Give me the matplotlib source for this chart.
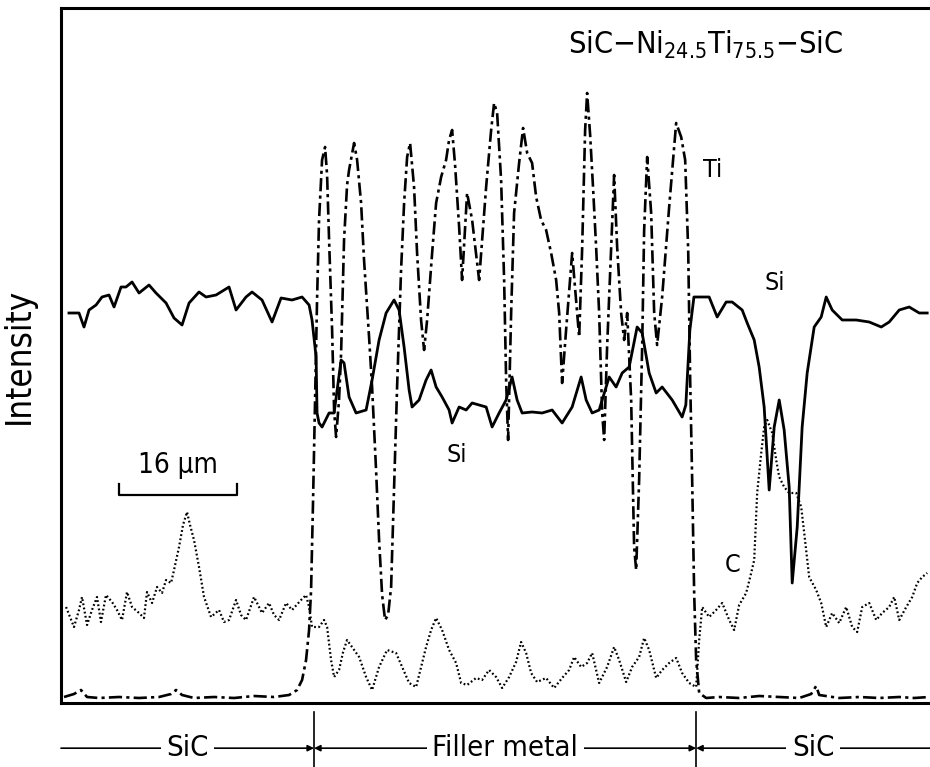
import matplotlib
matplotlib.use("Agg")
import matplotlib.pyplot as plt
from matplotlib import font_manager

# ── Line-scan data: position (um) / intensity (arb. counts) ──────────────
si_x = [1.08, 2.44, 3.12, 3.80, 4.75, 5.56, 6.51, 7.19, 8.14, 8.81, 9.63, 10.58,
        11.93, 12.88, 14.24, 15.32, 16.41, 17.36, 18.71, 19.66, 21.02, 22.78, 23.73,
        25.08, 25.90, 27.25, 28.61, 29.83, 31.32, 32.68, 33.63, 34.03, 34.58, 34.71,
        34.98, 35.39, 36.34, 37.02, 37.97, 38.37, 39.05, 40.00, 41.36, 42.17, 43.12,
        44.07, 45.15, 45.83, 46.51, 47.19, 47.59, 48.54, 49.49, 50.17, 50.85, 51.66,
        52.61, 53.02, 53.97, 54.92, 55.73, 56.68, 57.63, 58.44, 59.39, 60.34, 61.15,
        61.83, 62.51, 63.86, 65.22, 66.58, 67.93, 69.29, 70.51, 71.19, 72.00, 72.95,
        74.31, 75.25, 76.07, 77.02, 78.10, 78.78, 79.73, 80.68, 81.49, 82.85, 84.20,
        84.70, 85.25, 85.80, 87.86, 88.95, 90.17, 90.98, 92.34, 93.02, 93.97, 94.64,
        95.32, 96.00, 96.68, 97.36, 98.03, 98.71, 99.12, 99.80, 100.47, 101.15,
        102.10, 103.05, 103.73, 104.54, 105.90, 107.80, 109.56, 111.19, 112.27,
        113.63, 114.98, 116.34, 117.42]
si_y = [390, 390, 376, 393, 398, 406, 408, 396, 416, 416, 421, 410,
        418, 410, 400, 385, 378, 400, 411, 406, 408, 416, 393,
        406, 411, 403, 381, 405, 403, 406, 398, 383, 346, 290,
        280, 276, 290, 290, 343, 340, 306, 290, 293, 323, 363,
        390, 403, 393, 356, 313, 296, 303, 323, 333, 316, 306,
        293, 280, 296, 293, 300, 298, 296, 276, 290, 303, 326,
        303, 290, 291, 290, 293, 280, 296, 326, 303, 290, 293,
        326, 316, 330, 336, 376, 370, 330, 310, 316, 303, 286,
        298, 373, 406, 406, 386, 401, 401, 393, 380, 363, 336,
        296, 213, 276, 303, 273, 216, 120, 176, 276, 330,
        376, 386, 406, 393, 383, 383, 381, 376, 381,
        393, 396, 390, 390]

ti_x = [0.41, 1.76, 2.71, 3.53, 5.15, 7.86, 10.58, 13.29, 14.92, 15.59, 16.41,
        18.03, 20.75, 23.46, 26.17, 28.88, 30.92, 32.00, 32.68, 33.22, 33.63, 33.90,
        34.17, 34.44, 34.71, 34.98, 35.39, 35.80, 36.07, 36.34, 36.75, 37.02, 37.29,
        37.69, 37.97, 38.37, 38.78, 39.05, 39.73, 40.14, 40.68, 41.08, 41.76, 42.17,
        42.71, 43.12, 43.53, 43.93, 44.34, 44.75, 45.15, 45.56, 46.10, 46.51, 46.92,
        47.32, 47.86, 48.27, 48.81, 49.22, 49.63, 50.31, 50.85, 51.53, 52.20, 52.61,
        53.02, 53.42, 53.97, 54.37, 55.05, 55.73, 56.68, 57.63, 58.31, 58.71, 59.12,
        59.66, 60.07, 60.34, 60.61, 61.02, 61.42, 62.10, 62.64, 63.19, 63.86, 64.41,
        65.08, 65.76, 66.44, 67.12, 67.53, 67.93, 68.47, 69.29, 69.83, 70.24, 70.64,
        71.05, 71.32, 71.73, 72.14, 72.54, 72.95, 73.36, 73.63, 74.03, 74.58, 74.98,
        75.39, 75.93, 76.34, 76.75, 77.29, 77.69, 77.97, 78.37, 78.78, 79.05, 79.46,
        80.00, 80.41, 80.81, 81.49, 82.44, 83.39, 84.07, 84.61, 85.02, 85.29, 85.56,
        85.83, 86.10, 86.51, 87.46, 89.22, 91.93, 94.64, 97.36, 100.07, 101.69,
        102.37, 102.78, 105.49, 108.20, 110.92, 113.63, 115.66, 117.69]
ti_y = [6, 9, 13, 6, 5, 6, 5, 6, 9, 13, 8,
        5, 6, 5, 7, 6, 8, 13, 23, 43, 73, 113,
        203, 303, 403, 483, 543, 556, 528, 463, 373, 293, 266,
        303, 350, 463, 518, 533, 560, 543, 500, 443, 366, 316,
        233, 163, 108, 83, 88, 116, 216, 316, 433, 500, 546,
        560, 516, 450, 383, 353, 383, 450, 500, 526, 543, 563,
        573, 538, 476, 423, 510, 483, 423, 516, 573, 600, 590,
        523, 423, 323, 263, 390, 490, 540, 575, 550, 540, 506,
        483, 473, 450, 423, 390, 320, 373, 450, 403, 366, 453,
        573, 610, 568, 513, 456, 390, 290, 263, 356, 456, 528,
        456, 390, 363, 390, 303, 156, 133, 223, 356, 473, 546,
        490, 390, 358, 406, 496, 580, 566, 543, 453, 323, 223,
        110, 43, 10, 5, 6, 5, 7, 6, 5, 9,
        17, 8, 5, 6, 5, 6, 5, 6]

c_x = [0.68, 1.76, 2.44, 2.85, 3.53, 4.20, 4.88, 5.42, 6.10, 6.92, 7.59, 8.27,
       8.95, 9.63, 10.58, 11.25, 11.66, 12.34, 13.02, 13.69, 14.24, 14.92, 15.32,
       16.00, 16.54, 17.08, 17.49, 18.03, 18.71, 19.39, 20.34, 21.42, 22.10, 22.78,
       23.73, 24.41, 25.08, 26.17, 27.25, 28.20, 28.88, 29.56, 30.51, 31.32, 32.54,
       33.22, 33.63, 34.03, 34.98, 35.66, 36.07, 36.61, 37.02, 37.69, 38.24, 38.78,
       39.73, 40.41, 41.36, 42.17, 43.12, 44.20, 45.42, 46.24, 47.19, 48.14, 49.49,
       50.17, 50.85, 51.66, 52.61, 53.56, 54.24, 55.05, 56.27, 57.08, 58.03, 58.98,
       59.80, 60.75, 61.69, 62.37, 63.05, 63.73, 64.54, 65.76, 66.85, 67.93, 68.88,
       69.56, 70.51, 71.32, 72.00, 72.95, 74.03, 74.98, 75.66, 76.61, 77.42, 78.37,
       79.05, 79.73, 80.68, 81.49, 82.44, 83.39, 84.20, 85.15, 86.10, 86.51, 86.92,
       87.86, 88.81, 89.63, 90.58, 91.25, 91.93, 92.88, 93.56, 93.97, 94.37, 94.92,
       95.32, 95.73, 96.41, 96.95, 97.36, 98.03, 98.71, 99.66, 100.34, 100.75,
       101.42, 102.37, 103.05, 103.73, 104.54, 105.49, 106.44, 107.25, 107.93,
       108.61, 109.56, 110.51, 111.32, 112.27, 112.95, 113.63, 114.58, 115.39,
       116.07, 116.75, 117.42]
c_y = [96, 76, 93, 106, 78, 93, 106, 81, 108, 101, 93, 83,
       111, 96, 90, 85, 111, 100, 116, 110, 123, 120, 133,
       156, 178, 191, 178, 163, 136, 106, 86, 93, 81, 83,
       103, 88, 83, 106, 90, 100, 88, 83, 100, 93, 103,
       108, 96, 76, 76, 83, 76, 43, 26, 33, 51, 63,
       53, 46, 26, 13, 36, 53, 50, 36, 20, 16, 56,
       73, 85, 73, 53, 40, 20, 18, 25, 23, 33, 26,
       15, 26, 41, 61, 50, 30, 21, 25, 15, 25, 33,
       46, 36, 40, 50, 20, 36, 56, 43, 21, 36, 46,
       65, 53, 25, 33, 40, 45, 30, 20, 16, 63, 96,
       86, 93, 100, 83, 73, 98, 110, 130, 143, 210, 250,
       276, 283, 270, 243, 226, 216, 210, 210, 196, 170,
       126, 113, 100, 76, 90, 80, 96, 76, 71,
       96, 100, 83, 90, 96, 106, 83, 96, 106,
       120, 126, 130]

# interface positions and phase labels along the scan
interfaces = [34.3, 86.1]
phase_labels = ["SiC", "Filler metal", "SiC"]
scale_bar_um = 16

# ── Styling ──────────────────────────────────────────────────────────────
names = {f.name for f in font_manager.fontManager.ttflist}
narrow = [n for n in ("Liberation Sans Narrow", "DejaVu Sans") if n in names]
plt.rcParams["font.family"] = narrow + ["DejaVu Sans"]
plt.rcParams["font.stretch"] = "condensed"
plt.rcParams["mathtext.fontset"] = "custom"
plt.rcParams["mathtext.rm"] = narrow[0]

fig = plt.figure(figsize=(9.3, 7.67), dpi=100)
ax = fig.add_axes([61 / 930, 1 - 703 / 767, 1 - 61 / 930, 695 / 767])
ax.set_xlim(0, 117.8)
ax.set_ylim(0, 695)

ax.plot(si_x, si_y, color="black", lw=2.0, solid_joinstyle="round")
ax.plot(ti_x, ti_y, color="black", lw=1.9, linestyle=(0, (5, 1.6, 1.2, 1.6)))
ax.plot(c_x, c_y, color="black", lw=1.6, linestyle=(0, (0.8, 1.1)))

for side in ("left", "top", "bottom"):
    ax.spines[side].set_linewidth(2.2)
ax.spines["right"].set_visible(False)
ax.set_xticks([])
ax.set_yticks([])
ax.set_ylabel("Intensity", fontsize=25, labelpad=18)

# element labels
ax.text(88.3, 533, "Ti", fontsize=18, ha="center", va="center")
ax.text(96.8, 420, "Si", fontsize=18, ha="center", va="center")
ax.text(53.6, 248, "Si", fontsize=18, ha="center", va="center")
ax.text(91.0, 138, "C", fontsize=18, ha="center", va="center")
ax.text(87.4, 658, r"SiC$-$Ni$_{24.5}$Ti$_{75.5}$$-$SiC", fontsize=22,
        ha="center", va="center")

# scale bar
bar_x0 = 7.9
ax.plot([bar_x0, bar_x0, bar_x0 + scale_bar_um, bar_x0 + scale_bar_um],
        [219, 208, 208, 219], color="black", lw=1.6)
ax.text(bar_x0 + scale_bar_um / 2, 224, f"{scale_bar_um} µm", fontsize=20,
        ha="center", va="bottom")

# phase annotation under the axis
trans = ax.get_xaxis_transform()
for xb in interfaces:
    ax.plot([xb, xb], [-0.013, -0.095], color="black", lw=1.2,
            transform=trans, clip_on=False)

y_ann = -0.065
edges = [0, interfaces[0], interfaces[1], 117.8]
arrow_styles = ["-|>", "<|-|>", "<|-"]
for i, label in enumerate(phase_labels):
    x0, x1 = edges[i], edges[i + 1]
    ax.annotate("", xy=(x1, y_ann), xytext=(x0, y_ann), xycoords=trans,
                textcoords=trans,
                arrowprops=dict(arrowstyle=arrow_styles[i], color="black",
                                lw=1.2, mutation_scale=9,
                                shrinkA=0, shrinkB=0))
    ax.text((x0 + x1) / 2, y_ann, label, transform=trans, fontsize=21,
            ha="center", va="center",
            bbox=dict(facecolor="white", edgecolor="none", pad=4))

fig.savefig("out.png", dpi=100)
